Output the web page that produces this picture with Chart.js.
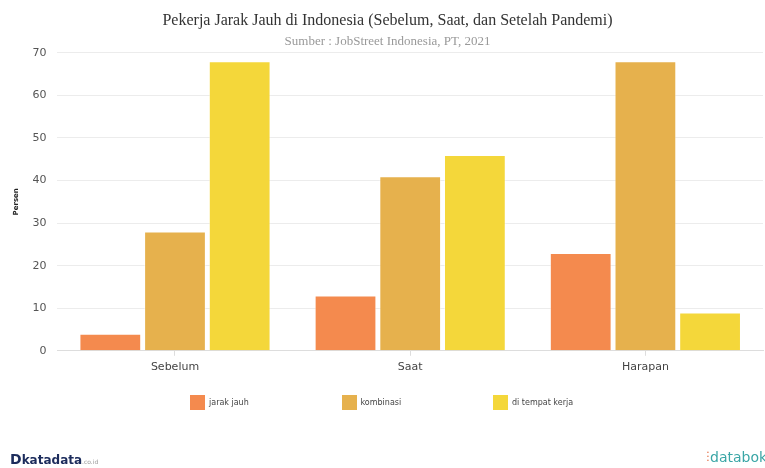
<!DOCTYPE html>
<html>
<head>
<meta charset="utf-8">
<script src="https://cdn.jsdelivr.net/npm/chart.js@4"></script>
<style>
    body { margin: 0; background: #fff; }
    #wrap { position: relative; width: 765px; height: 468px; overflow: hidden; }
    #legend { position: absolute; left: 190px; top: 395px; font-family: "DejaVu Sans", sans-serif; font-size: 8px; color: #444; }
    #legend .item { position: absolute; top: 0; white-space: nowrap; }
    #legend .box { display: inline-block; width: 15px; height: 15px; vertical-align: middle; margin-right: 4px; }
    #legend span { vertical-align: middle; }
    .logo { position: absolute; top: 451px; font-family: "DejaVu Sans", sans-serif; font-weight: bold; white-space: nowrap; }
</style>
</head>
<body>
<div id="wrap">
    <canvas id="graphic" width="765" height="468"></canvas>
    <div id="legend"></div>
    <div class="logo" style="left:10px; color:#1c2c5c; font-size:14px;">D<span style="font-size:12px">katadata</span><span style="font-size:6px; color:#999; font-weight:normal">.co.id</span></div>
    <div class="logo" style="left:706px; top:449px; color:#3aa6a6; font-size:14px; font-weight:normal;"><span style="color:#e2683c">⫶</span>databoks</div>
</div>
<script>
// data
let categories = ["Sebelum", "Saat", "Harapan"]
let seriesNames = ["jarak jauh", "kombinasi", "di tempat kerja"]
let jarakJauh = [4, 13, 23]
let kombinasi = [28, 41, 68]
let diTempatKerja = [68, 46, 9]
let yTicks = [0, 10, 20, 30, 40, 50, 60, 70]

let colors = ["#f48a4e", "#e6b14d", "#f4d73a"]
let seriesValues = [jarakJauh, kombinasi, diTempatKerja]

let datasets = []
for (let i = 0; i < seriesNames.length; i++) {
    datasets.push({
        label: seriesNames[i],
        data: seriesValues[i],
        backgroundColor: colors[i],
        borderColor: "rgba(255,255,255,0.45)",
        borderWidth: 1,
        categoryPercentage: 0.825,
        barPercentage: 0.955,
    })
}

const chartID = document.getElementById("graphic").getContext("2d")
let graphic = new Chart(chartID, {
    type: "bar",
    data: {
        labels: categories,
        datasets: datasets,
    },
    options: {
        responsive: false,
        animation: false,
        layout: {
            padding: { left: 12, right: 2, top: 0, bottom: 89 },
        },
        plugins: {
            legend: { display: false },
            tooltip: { enabled: false },
            title: {
                display: true,
                text: "Pekerja Jarak Jauh di Indonesia (Sebelum, Saat, dan Setelah Pandemi)",
                color: "#333",
                font: { family: "Liberation Serif", size: 16, weight: "normal" },
                padding: { top: 11, bottom: 2 },
            },
            subtitle: {
                display: true,
                text: "Sumber : JobStreet Indonesia, PT, 2021",
                color: "#999",
                font: { family: "Liberation Serif", size: 13, weight: "normal" },
                padding: { top: 2, bottom: 3 },
            },
        },
        scales: {
            x: {
                grid: {
                    offset: false,
                    drawOnChartArea: false,
                    tickLength: 5,
                    color: "#ddd",
                },
                border: { color: "#ddd" },
                ticks: {
                    color: "#444",
                    font: { family: "DejaVu Sans", size: 11 },
                    padding: 5,
                },
            },
            y: {
                min: 0,
                max: 70,
                afterBuildTicks: function (axis) {
                    axis.ticks = yTicks.map(function (v) { return { value: v } })
                },
                grid: { color: "#ececec", drawTicks: false },
                border: { display: false },
                ticks: {
                    color: "#555",
                    font: { family: "DejaVu Sans", size: 11 },
                    padding: 11,
                },
                title: {
                    display: true,
                    text: "Persen",
                    color: "#222",
                    font: { family: "DejaVu Sans", size: 7, weight: "bold" },
                    padding: { top: 0, bottom: 1 },
                },
            },
        },
    },
})

// legend with fixed column width, like the reference
let legend = document.getElementById("legend")
for (let i = 0; i < seriesNames.length; i++) {
    let item = document.createElement("div")
    item.className = "item"
    item.style.left = i * 151.5 + "px"
    item.innerHTML = '<div class="box" style="background:' + colors[i] + '"></div><span>' + seriesNames[i] + "</span>"
    legend.appendChild(item)
}
</script>
</body>
</html>
